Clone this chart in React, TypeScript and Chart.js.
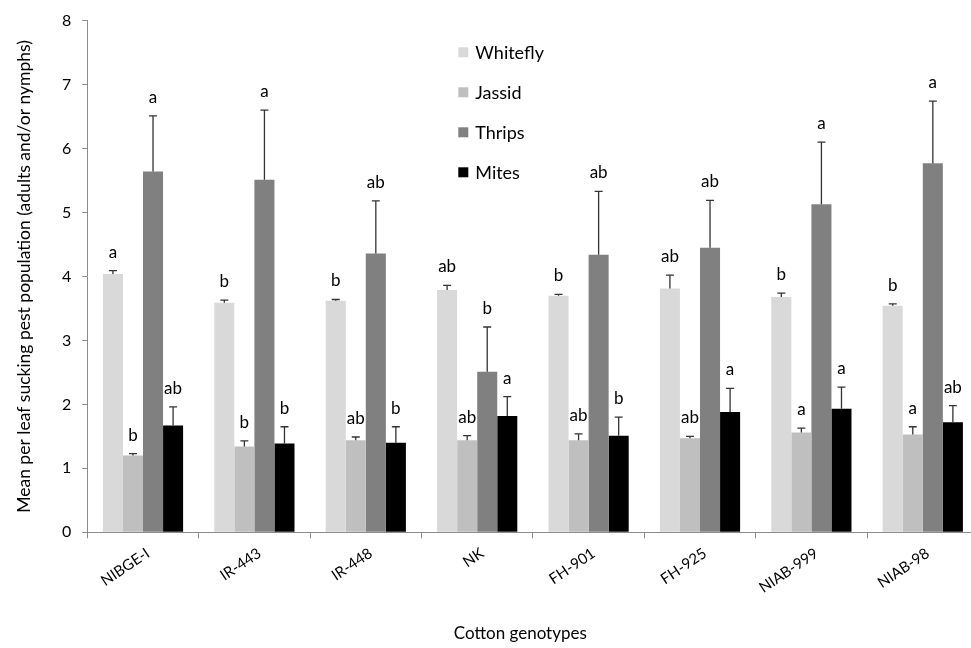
import { useEffect, useRef } from 'react';
import { Chart, registerables } from 'chart.js';
Chart.register(...registerables);

const categories = ['NIBGE-I', 'IR-443', 'IR-448', 'NK', 'FH-901', 'FH-925', 'NIAB-999', 'NIAB-98'];
const seriesNames = ['Whitefly', 'Jassid', 'Thrips', 'Mites'];
const seriesColors = ['#d9d9d9', '#bfbfbf', '#808080', '#000000'];

const whitefly = [4.04, 3.59, 3.62, 3.79, 3.70, 3.81, 3.68, 3.54];
const jassid = [1.20, 1.34, 1.44, 1.44, 1.44, 1.47, 1.56, 1.53];
const thrips = [5.64, 5.51, 4.36, 2.51, 4.34, 4.45, 5.13, 5.77];
const mites = [1.67, 1.39, 1.40, 1.82, 1.51, 1.88, 1.93, 1.72];

const whiteflyErr = [0.05, 0.04, 0.02, 0.07, 0.02, 0.21, 0.06, 0.03];
const jassidErr = [0.03, 0.09, 0.05, 0.07, 0.10, 0.03, 0.07, 0.12];
const thripsErr = [0.87, 1.09, 0.82, 0.70, 0.99, 0.74, 0.97, 0.97];
const mitesErr = [0.29, 0.26, 0.25, 0.30, 0.29, 0.37, 0.34, 0.26];

const whiteflyLetters = ['a', 'b', 'b', 'ab', 'b', 'ab', 'b', 'b'];
const jassidLetters = ['b', 'b', 'ab', 'ab', 'ab', 'ab', 'a', 'a'];
const thripsLetters = ['a', 'a', 'ab', 'b', 'ab', 'ab', 'a', 'a'];
const mitesLetters = ['ab', 'b', 'b', 'a', 'b', 'a', 'a', 'ab'];

const yTickLabels = ['0', '1', '2', '3', '4', '5', '6', '7', '8'];
const yTitle = 'Mean per leaf sucking pest population (adults and/or nymphs)';
const xTitle = 'Cotton genotypes';

const seriesValues = [whitefly, jassid, thrips, mites];
const seriesErrors = [whiteflyErr, jassidErr, thripsErr, mitesErr];
const seriesLetters = [whiteflyLetters, jassidLetters, thripsLetters, mitesLetters];

const FONT = 'Lato, "Open Sans", sans-serif';
const AXIS_GRAY = '#8c8c8c';

const overlayPlugin = {
  id: 'overlay',
  afterDatasetsDraw(chart: any) {
    const ctx = chart.ctx;
    const y = chart.scales.y;
    const area = chart.chartArea;
    ctx.save();
    // error bars
    ctx.strokeStyle = '#333333';
    ctx.lineWidth = 1.3;
    seriesValues.forEach((vals, di) => {
      const meta = chart.getDatasetMeta(di);
      meta.data.forEach((bar: any, i: number) => {
        const top = y.getPixelForValue(vals[i]);
        const cap = y.getPixelForValue(vals[i] + seriesErrors[di][i]);
        ctx.beginPath();
        ctx.moveTo(bar.x, top);
        ctx.lineTo(bar.x, cap);
        ctx.moveTo(bar.x - 4, cap);
        ctx.lineTo(bar.x + 4, cap);
        ctx.stroke();
        // letters
        ctx.fillStyle = '#000';
        ctx.font = `17px ${FONT}`;
        ctx.textAlign = 'center';
        ctx.textBaseline = 'alphabetic';
        ctx.fillText(seriesLetters[di][i], bar.x, cap - 13);
      });
    });
    // legend
    const lx = area.left + 371;
    const ly = area.top + 31.7;
    seriesNames.forEach((name, k) => {
      const cy = ly + k * 40;
      ctx.fillStyle = seriesColors[k];
      ctx.fillRect(lx, cy - 5, 10, 10);
      ctx.fillStyle = '#000';
      ctx.font = `18px ${FONT}`;
      ctx.textAlign = 'left';
      ctx.textBaseline = 'middle';
      ctx.fillText(name, lx + 17, cy + 1);
    });
    // x title
    ctx.fillStyle = '#000';
    ctx.font = `17px ${FONT}`;
    ctx.textAlign = 'center';
    ctx.textBaseline = 'middle';
    ctx.fillText(xTitle, area.left + 433, chart.height - 14);
    ctx.restore();
  },
};

export default function App() {
  const ref = useRef<HTMLCanvasElement>(null);
  useEffect(() => {
    if (!ref.current) return;
    const chart = new Chart(ref.current, {
      type: 'bar',
      data: {
        labels: categories,
        datasets: seriesNames.map((name, k) => ({
          label: name,
          data: seriesValues[k],
          backgroundColor: seriesColors[k],
          borderWidth: 0,
          categoryPercentage: 0.72,
          barPercentage: 1.0,
        })),
      },
      options: {
        animation: false,
        responsive: false,
        devicePixelRatio: 1,
        layout: { padding: { top: 15, right: 1.5, left: 0, bottom: 0 } },
        plugins: { legend: { display: false }, tooltip: { enabled: false } },
        scales: {
          x: {
            grid: { offset: true, drawOnChartArea: false, drawTicks: true, tickLength: 6, color: AXIS_GRAY },
            border: { display: true, color: AXIS_GRAY, width: 1 },
            ticks: {
              color: '#000',
              font: { family: FONT, size: 15 },
              minRotation: 34,
              maxRotation: 34,
              padding: 6,
              labelOffset: 5,
              autoSkip: false,
            },
            afterFit: (s: any) => { s.height = 115.7; },
          },
          y: {
            min: 0,
            max: 8,
            grid: { drawOnChartArea: false, drawTicks: true, tickLength: 5, color: AXIS_GRAY },
            border: { display: true, color: AXIS_GRAY, width: 1 },
            ticks: {
              stepSize: 1,
              color: '#000',
              font: { family: FONT, size: 16 },
              padding: 11,
              callback: (v: any) => yTickLabels[Number(v)] ?? '',
            },
            title: {
              display: true,
              text: yTitle,
              color: '#000',
              font: { family: FONT, size: 17.5 },
              padding: { top: 14, bottom: 0 },
            },
            afterFit: (s: any) => { s.width = 87.3; },
          },
        },
      },
      plugins: [overlayPlugin],
    });
    return () => chart.destroy();
  }, []);
  return (
    <div style={{ position: 'fixed', left: 0, top: 0, width: 971, height: 648, overflow: 'hidden', background: '#fff' }}>
      <canvas ref={ref} width={980} height={648} style={{ display: 'block', width: 980, height: 648 }} />
    </div>
  );
}
